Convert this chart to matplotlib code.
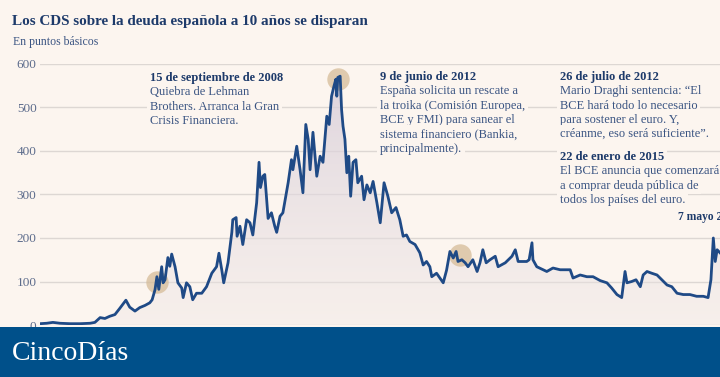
import numpy as np
import matplotlib
matplotlib.use("Agg")
import matplotlib.pyplot as plt
from matplotlib.patches import Rectangle
from matplotlib.colors import LinearSegmentedColormap

# ---------------- data ----------------
years = [2006.26, 2006.40, 2006.53, 2006.68, 2006.89, 2007.10, 2007.31, 2007.41, 2007.52, 2007.62,
         2007.72, 2007.83, 2007.93, 2008.06, 2008.14, 2008.25, 2008.35, 2008.46, 2008.56, 2008.61,
         2008.67, 2008.71, 2008.75, 2008.81, 2008.84, 2008.88, 2008.94, 2008.98, 2009.02, 2009.09,
         2009.15, 2009.23, 2009.26, 2009.33, 2009.40, 2009.46, 2009.54, 2009.65, 2009.75, 2009.86,
         2009.96, 2010.01, 2010.07, 2010.11, 2010.20, 2010.28, 2010.30, 2010.37, 2010.39, 2010.45,
         2010.51, 2010.59, 2010.66, 2010.72, 2010.80, 2010.85, 2010.88, 2010.93, 2010.97, 2011.01,
         2011.04, 2011.11, 2011.18, 2011.22, 2011.29, 2011.35, 2011.41, 2011.46, 2011.53, 2011.56,
         2011.64, 2011.71, 2011.77, 2011.83, 2011.88, 2011.92, 2011.98, 2012.06, 2012.13, 2012.19,
         2012.27, 2012.32, 2012.37, 2012.42, 2012.46, 2012.48, 2012.50, 2012.55, 2012.58, 2012.61,
         2012.65, 2012.69, 2012.73, 2012.77, 2012.82, 2012.88, 2012.92, 2013.00, 2013.05, 2013.11,
         2013.18, 2013.24, 2013.32, 2013.39, 2013.47, 2013.55, 2013.63, 2013.72, 2013.80, 2013.87,
         2013.94, 2014.01, 2014.12, 2014.22, 2014.29, 2014.36, 2014.43, 2014.47, 2014.57, 2014.64,
         2014.71, 2014.78, 2014.85, 2014.92, 2014.98, 2015.02, 2015.10, 2015.17, 2015.23, 2015.33,
         2015.42, 2015.48, 2015.54, 2015.61, 2015.69, 2015.80, 2015.86, 2016.01, 2016.15, 2016.22,
         2016.28, 2016.32, 2016.46, 2016.51, 2016.57, 2016.59, 2016.67, 2016.88, 2017.01, 2017.16,
         2017.37, 2017.43, 2017.58, 2017.72, 2017.85, 2018.00, 2018.14, 2018.24, 2018.35, 2018.45,
         2018.52, 2018.56, 2018.66, 2018.75, 2018.84, 2018.90, 2018.98, 2019.08, 2019.19, 2019.29,
         2019.40, 2019.50, 2019.61, 2019.74, 2019.88, 2020.02, 2020.16, 2020.26, 2020.32, 2020.37,
         2020.41, 2020.45, 2020.51]
cds = [3, 4, 6, 4, 3, 3, 4, 6, 17, 15,
       20, 24, 38, 57, 41, 32, 40, 45, 51, 58,
       81, 111, 82, 134, 97, 104, 155, 135, 163, 134,
       97, 85, 63, 97, 88, 58, 73, 73, 88, 119,
       134, 165, 126, 97, 143, 213, 242, 247, 204, 227,
       185, 242, 235, 207, 281, 374, 316, 342, 346, 288,
       245, 258, 227, 213, 250, 258, 296, 327, 380, 357,
       411, 357, 304, 461, 427, 357, 443, 342, 388, 374,
       480, 461, 526, 549, 565, 526, 569, 572, 495, 457,
       427, 350, 388, 296, 374, 380, 327, 342, 288, 322,
       304, 330, 281, 235, 327, 296, 258, 270, 242, 204,
       207, 192, 185, 166, 138, 146, 134, 111, 119, 108,
       97, 126, 169, 154, 169, 146, 150, 143, 134, 150,
       123, 143, 173, 143, 150, 158, 134, 143, 158, 173,
       146, 146, 146, 150, 189, 150, 134, 123, 131, 127,
       127, 108, 115, 111, 111, 102, 97, 85, 70, 63,
       123, 97, 100, 104, 88, 115, 123, 119, 115, 104,
       92, 88, 73, 70, 70, 66, 66, 63, 104, 200,
       146, 173, 166]

event_years = [2008.71, 2012.50, 2015.06]
event_values = [100, 565, 160]
yticks = [0, 100, 200, 300, 400, 500, 600]

title = "Los CDS sobre la deuda española a 10 años se disparan"
subtitle = "En puntos básicos"
notes = [
    (150, 78, "15 de septiembre de 2008",
     ["Quiebra de Lehman", "Brothers. Arranca la Gran", "Crisis Financiera."]),
    (380, 77, "9 de junio de 2012",
     ["España solicita un rescate a", "la troika (Comisión Europea,",
      "BCE y FMI) para sanear el", "sistema financiero (Bankia,", "principalmente)."]),
    (560, 77, "26 de julio de 2012",
     ["Mario Draghi sentencia: “El", "BCE hará todo lo necesario",
      "para sostener el euro. Y,", "créanme, eso será suficiente”."]),
    (560, 157, "22 de enero de 2015",
     ["El BCE anuncia que comenzará", "a comprar deuda pública de",
      "todos los países del euro."]),
    (678, 217, "7 mayo 2020", []),
]

# ---------------- style ----------------
BG = "#fcf5ef"
NAVY = "#1d3a6a"
BODY = "#3a5482"
LINE = "#1f4a86"
SERIF = ["Liberation Serif", "DejaVu Serif"]
W, H = 720, 377

fig = plt.figure(figsize=(W / 100, H / 100), dpi=100)
fig.patch.set_facecolor(BG)
ax = fig.add_axes([40 / W, 52 / H, 680 / W, 261 / H])
ax.set_facecolor(BG)
ax.set_xlim(2006.26, 2020.51)
ax.set_ylim(0, 600)
for s in ax.spines.values():
    s.set_visible(False)
ax.set_xticks([])
ax.set_yticks(yticks)
ax.tick_params(axis="y", length=0, pad=2.5, labelsize=9.5, labelcolor="#5d6c8c")
for lab in ax.get_yticklabels():
    lab.set_fontfamily(SERIF)
ax.grid(axis="y", color="#ddd7d3", lw=1.0)
ax.set_axisbelow(True)

# gradient area under the curve
poly = ax.fill_between(years, cds, 0, color="none", lw=0)
grad = np.linspace(0, 1, 256).reshape(-1, 1)
cmap = LinearSegmentedColormap.from_list(
    "g", [(0.93, 0.90, 0.90, 0.35), (0.84, 0.80, 0.85, 0.85)])
im = ax.imshow(grad, extent=[2006.26, 2020.51, 0, 600], origin="lower",
               aspect="auto", cmap=cmap, zorder=1, interpolation="bilinear")
im.set_clip_path(poly.get_paths()[0], transform=ax.transData)

ax.scatter(event_years, event_values, s=260, color="#d6bc98", alpha=0.75,
           lw=0, zorder=2)
ax.plot(years, cds, color=LINE, lw=2.0, zorder=3, solid_joinstyle="round")


def ftxt(x, y, s, **kw):
    return fig.text(x / W, 1 - y / H, s, **kw)


ftxt(12, 21, title, fontsize=10.9, color=NAVY, family=SERIF, weight="bold", va="center")
ftxt(13, 42, subtitle, fontsize=8.5, color=BODY, family=SERIF, va="center")

for x, y, head, body in notes:
    fs = 8.3 if not body else 9
    ftxt(x, y, head, fontsize=fs, color=NAVY, family=SERIF, weight="bold", va="center",
         bbox=dict(facecolor=BG, edgecolor="none", pad=2))
    for i, line in enumerate(body):
        ftxt(x, y + 14.3 * (i + 1), line, fontsize=9, color=BODY, family=SERIF,
             va="center", bbox=dict(facecolor=BG, edgecolor="none", pad=2))

fig.add_artist(Rectangle((0, 0), 1, 50 / H, transform=fig.transFigure,
                         facecolor="#00508a", edgecolor="none", zorder=5))
ftxt(12, 353, "CincoDías", fontsize=20, color="white", family=SERIF, va="center", zorder=6)

fig.savefig("out.png", dpi=100, facecolor=BG)
